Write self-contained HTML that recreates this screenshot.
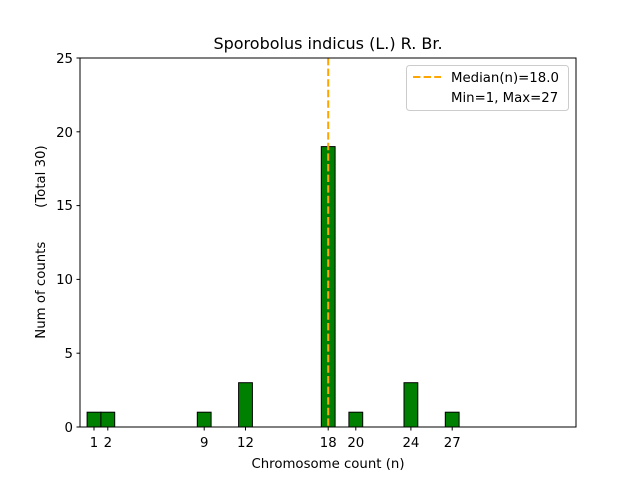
<!DOCTYPE html>
<html><head><meta charset="utf-8"><style>
body{margin:0;background:#fff}
text{font-family:"DejaVu Sans","Liberation Sans",sans-serif;fill:#000}
</style></head><body>
<svg width="640" height="480" xmlns="http://www.w3.org/2000/svg">
<rect width="640" height="480" fill="#fff"/>
<line x1="87.1" y1="427" x2="500.5" y2="427" stroke="#000" stroke-width="1"/>
<g fill="#008000" stroke="#000" stroke-width="1">
<rect x="87.1" y="412.2" width="13.8" height="14.8"/>
<rect x="100.9" y="412.2" width="13.8" height="14.8"/>
<rect x="197.3" y="412.2" width="13.8" height="14.8"/>
<rect x="238.6" y="382.7" width="13.8" height="44.3"/>
<rect x="321.3" y="146.6" width="13.8" height="280.4"/>
<rect x="348.9" y="412.2" width="13.8" height="14.8"/>
<rect x="404.0" y="382.7" width="13.8" height="44.3"/>
<rect x="445.3" y="412.2" width="13.8" height="14.8"/>
</g>
<line x1="328.2" y1="58" x2="328.2" y2="427" stroke="#ffa500" stroke-width="2" stroke-dasharray="7.4,3.2"/>
<rect x="80" y="58" width="496" height="369" fill="none" stroke="#000" stroke-width="1"/>
<g stroke="#000"><line x1="76.5" y1="427" x2="80" y2="427"/><line x1="76.5" y1="353.2" x2="80" y2="353.2"/><line x1="76.5" y1="279.4" x2="80" y2="279.4"/><line x1="76.5" y1="205.6" x2="80" y2="205.6"/><line x1="76.5" y1="131.8" x2="80" y2="131.8"/><line x1="76.5" y1="58" x2="80" y2="58"/></g>
<g font-size="13.3" text-anchor="end">
<text x="73" y="432">0</text><text x="73" y="358">5</text><text x="73" y="284">10</text><text x="73" y="210">15</text><text x="73" y="137">20</text><text x="73" y="63">25</text>
</g>
<g stroke="#000"><line x1="94" y1="427" x2="94" y2="430.5"/><line x1="107.8" y1="427" x2="107.8" y2="430.5"/><line x1="204.2" y1="427" x2="204.2" y2="430.5"/><line x1="245.5" y1="427" x2="245.5" y2="430.5"/><line x1="328.2" y1="427" x2="328.2" y2="430.5"/><line x1="355.8" y1="427" x2="355.8" y2="430.5"/><line x1="410.9" y1="427" x2="410.9" y2="430.5"/><line x1="452.2" y1="427" x2="452.2" y2="430.5"/></g>
<g font-size="13.3" text-anchor="middle">
<text x="94" y="447">1</text><text x="107.8" y="447">2</text><text x="204.2" y="447">9</text><text x="245.5" y="447">12</text><text x="328.2" y="447">18</text><text x="355.8" y="447">20</text><text x="410.9" y="447">24</text><text x="452.2" y="447">27</text>
</g>
<text x="328" y="468" font-size="13.3" text-anchor="middle">Chromosome count (n)</text>
<text transform="translate(45,242) rotate(-90)" font-size="13.3" text-anchor="middle" style="white-space:pre" xml:space="preserve">Num of counts        (Total 30)</text>
<text x="328" y="49" font-size="16" text-anchor="middle">Sporobolus indicus (L.) R. Br.</text>
<rect x="406.5" y="65.5" width="162" height="45" rx="3" fill="#fff" fill-opacity="0.8" stroke="#ccc"/>
<line x1="413" y1="77" x2="441" y2="77" stroke="#ffa500" stroke-width="2" stroke-dasharray="7.4,3.2"/>
<text x="451" y="82" font-size="13.3">Median(n)=18.0</text>
<text x="451" y="102" font-size="13.3">Min=1, Max=27</text>
</svg>
</body></html>
